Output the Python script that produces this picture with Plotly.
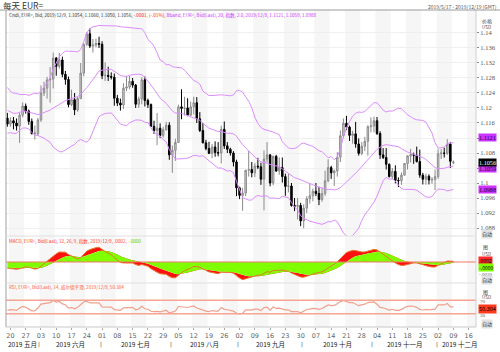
import numpy as np
import pandas as pd
import plotly.graph_objects as go

# ---------------- data (EUR= daily, Bid) ----------------
# closes before the visible window (only used to warm up the indicators)
warmup_close = [1.1340, 1.1352, 1.1415, 1.1374, 1.1301, 1.1312, 1.1265, 1.1251, 1.1223, 1.1217,
                1.1214, 1.1205, 1.1235, 1.1220, 1.1216, 1.1262, 1.1263, 1.1276, 1.1254, 1.1300,
                1.1304, 1.1284, 1.1297, 1.1236, 1.1245, 1.1257, 1.1225, 1.1153, 1.1131, 1.1150,
                1.1185, 1.1215, 1.1193, 1.1171, 1.1201, 1.1196, 1.1190, 1.1195, 1.1215, 1.1234,
                1.1225, 1.1206, 1.1202, 1.1173]

opens = [1.1173,
 1.1157, 1.1166, 1.1160, 1.1152, 1.1181,
 1.1205, 1.1192, 1.1164, 1.1131, 1.1131,
 1.1168, 1.1240, 1.1253, 1.1275, 1.1277,
 1.1333, 1.1311, 1.1328, 1.1290, 1.1276,
 1.1209, 1.1222, 1.1195, 1.1225, 1.1293,
 1.1370, 1.1398, 1.1365, 1.1368, 1.1372,
 1.1370, 1.1286, 1.1287, 1.1284, 1.1282,
 1.1226, 1.1213, 1.1208, 1.1253, 1.1256,
 1.1271, 1.1261, 1.1210, 1.1224, 1.1275,
 1.1220, 1.1209, 1.1151, 1.1140, 1.1146,
 1.1127, 1.1142, 1.1154, 1.1075, 1.1087,
 1.1108, 1.1203, 1.1199, 1.1200, 1.1181,
 1.1203, 1.1214, 1.1171, 1.1140, 1.1107,
 1.1092, 1.1079, 1.1096, 1.1081, 1.1080,
 1.1143, 1.1099, 1.1090, 1.1080, 1.1056,
 1.0987, 1.0967, 1.0973, 1.1034, 1.1036,
 1.1027, 1.1045, 1.1043, 1.1010, 1.1064,
 1.1075, 1.1000, 1.1071, 1.1032, 1.1041,
 1.1017, 1.0991, 1.0992, 1.0940, 1.0938,
 1.0940, 1.0899, 1.0933, 1.0958, 1.0966,
 1.0978, 1.0972, 1.0956, 1.0972, 1.1006,
 1.1041, 1.1027, 1.1032, 1.1069, 1.1126,
 1.1159, 1.1149, 1.1127, 1.1131, 1.1104,
 1.1079, 1.1098, 1.1111, 1.1150, 1.1152,
 1.1166, 1.1132, 1.1075, 1.1068, 1.1050,
 1.1017, 1.1031, 1.1007, 1.1006, 1.1021,
 1.1052, 1.1072, 1.1076, 1.1074, 1.1057,
 1.1021, 1.1010, 1.1018, 1.1008, 1.1009,
 1.1017, 1.1078, 1.1080, 1.1079, 1.1104,
 1.1054]

highs = [1.1187,
 1.1175, 1.1176, 1.1172, 1.1187, 1.1215,
 1.1212, 1.1196, 1.1172, 1.1153, 1.1174,
 1.1260, 1.1270, 1.1283, 1.1309, 1.1348,
 1.1336, 1.1347, 1.1337, 1.1299, 1.1284,
 1.1249, 1.1240, 1.1230, 1.1320, 1.1372,
 1.1403, 1.1412, 1.1384, 1.1385, 1.1390,
 1.1378, 1.1322, 1.1310, 1.1295, 1.1292,
 1.1235, 1.1225, 1.1266, 1.1285, 1.1286,
 1.1280, 1.1264, 1.1230, 1.1282, 1.1284,
 1.1225, 1.1212, 1.1166, 1.1187, 1.1159,
 1.1149, 1.1163, 1.1162, 1.1100, 1.1118,
 1.1209, 1.1250, 1.1230, 1.1226, 1.1217,
 1.1230, 1.1229, 1.1189, 1.1160, 1.1115,
 1.1110, 1.1104, 1.1111, 1.1109, 1.1153,
 1.1164, 1.1109, 1.1094, 1.1085, 1.1062,
 1.0990, 1.0987, 1.1035, 1.1085, 1.1056,
 1.1053, 1.1067, 1.1054, 1.1087, 1.1109,
 1.1076, 1.1073, 1.1075, 1.1068, 1.1068,
 1.1025, 1.1025, 1.1000, 1.0960, 1.0960,
 1.0947, 1.0943, 1.0965, 1.0999, 1.0985,
 1.1000, 1.0990, 1.0986, 1.1033, 1.1063,
 1.1046, 1.1036, 1.1082, 1.1140, 1.1172,
 1.1179, 1.1153, 1.1139, 1.1163, 1.1119,
 1.1109, 1.1123, 1.1154, 1.1175, 1.1177,
 1.1176, 1.1138, 1.1093, 1.1093, 1.1052,
 1.1040, 1.1047, 1.1015, 1.1028, 1.1052,
 1.1074, 1.1091, 1.1081, 1.1097, 1.1089,
 1.1027, 1.1025, 1.1023, 1.1016, 1.1036,
 1.1090, 1.1090, 1.1094, 1.1117, 1.1109,
 1.1060]

lows = [1.1150,
 1.1150, 1.1143, 1.1140, 1.1107, 1.1175,
 1.1185, 1.1155, 1.1131, 1.1116, 1.1126,
 1.1163, 1.1232, 1.1225, 1.1214, 1.1252,
 1.1286, 1.1305, 1.1282, 1.1262, 1.1202,
 1.1205, 1.1181, 1.1190, 1.1225, 1.1285,
 1.1365, 1.1360, 1.1348, 1.1362, 1.1360,
 1.1277, 1.1272, 1.1272, 1.1276, 1.1206,
 1.1205, 1.1193, 1.1197, 1.1245, 1.1250,
 1.1254, 1.1200, 1.1200, 1.1210, 1.1204,
 1.1200, 1.1150, 1.1131, 1.1101, 1.1120,
 1.1121, 1.1140, 1.1062, 1.1027, 1.1059,
 1.1107, 1.1170, 1.1180, 1.1178, 1.1178,
 1.1183, 1.1160, 1.1136, 1.1106, 1.1087,
 1.1077, 1.1066, 1.1070, 1.1071, 1.1052,
 1.1091, 1.1080, 1.1073, 1.1044, 1.0965,
 1.0957, 1.0926, 1.0965, 1.1017, 1.1015,
 1.1016, 1.1037, 1.0995, 1.0927, 1.1055,
 1.0991, 1.0994, 1.1030, 1.1022, 1.1001,
 1.0966, 1.0975, 1.0937, 1.0925, 1.0903,
 1.0885, 1.0879, 1.0920, 1.0945, 1.0951,
 1.0965, 1.0941, 1.0950, 1.0966, 1.1002,
 1.1011, 1.0992, 1.1017, 1.1056, 1.1120,
 1.1141, 1.1112, 1.1105, 1.1094, 1.1073,
 1.1074, 1.1085, 1.1073, 1.1135, 1.1135,
 1.1128, 1.1064, 1.1064, 1.1036, 1.1015,
 1.1010, 1.0999, 1.0989, 1.0995, 1.1019,
 1.1036, 1.1055, 1.1051, 1.1055, 1.1014,
 1.0996, 1.0995, 1.0996, 1.0998, 1.0981,
 1.1011, 1.1064, 1.1068, 1.1075, 1.1040,
 1.1050]

closes = [1.1157,
 1.1166, 1.1160, 1.1152, 1.1181, 1.1205,
 1.1192, 1.1164, 1.1131, 1.1133, 1.1168,
 1.1240, 1.1253, 1.1275, 1.1277, 1.1333,
 1.1311, 1.1328, 1.1290, 1.1276, 1.1209,
 1.1222, 1.1195, 1.1225, 1.1293, 1.1370,
 1.1398, 1.1365, 1.1368, 1.1372, 1.1370,
 1.1286, 1.1287, 1.1284, 1.1282, 1.1226,
 1.1213, 1.1208, 1.1253, 1.1256, 1.1271,
 1.1261, 1.1210, 1.1224, 1.1275, 1.1220,
 1.1209, 1.1151, 1.1140, 1.1146, 1.1127,
 1.1142, 1.1154, 1.1075, 1.1087, 1.1108,
 1.1203, 1.1199, 1.1200, 1.1181, 1.1203,
 1.1214, 1.1171, 1.1140, 1.1107, 1.1092,
 1.1079, 1.1096, 1.1081, 1.1080, 1.1143,
 1.1099, 1.1090, 1.1080, 1.1056, 1.0987,
 1.0967, 1.0973, 1.1034, 1.1036, 1.1027,
 1.1045, 1.1043, 1.1010, 1.1064, 1.1075,
 1.1000, 1.1071, 1.1032, 1.1041, 1.1017,
 1.0991, 1.0992, 1.0940, 1.0938, 1.0940,
 1.0899, 1.0933, 1.0958, 1.0966, 1.0978,
 1.0972, 1.0956, 1.0972, 1.1006, 1.1041,
 1.1027, 1.1032, 1.1069, 1.1126, 1.1159,
 1.1149, 1.1127, 1.1131, 1.1104, 1.1079,
 1.1098, 1.1111, 1.1150, 1.1152, 1.1166,
 1.1132, 1.1075, 1.1068, 1.1050, 1.1017,
 1.1031, 1.1007, 1.1006, 1.1021, 1.1052,
 1.1072, 1.1076, 1.1074, 1.1057, 1.1021,
 1.1010, 1.1018, 1.1008, 1.1009, 1.1017,
 1.1078, 1.1080, 1.1079, 1.1104, 1.1058,
 1.1056]

price_ticks = [1.088, 1.092, 1.096, 1.1, 1.104, 1.108, 1.112, 1.116, 1.12, 1.124, 1.128, 1.132, 1.136, 1.14]
# 1.104 and 1.112 are hidden behind the Bollinger value boxes in the original
price_tick_text = ["1.088", "1.092", "1.096", "1.1", "", "1.108", "", "1.116", "1.12",
                   "1.124", "1.128", "1.132", "1.136", "1.14"]
month_names = {5: "五月", 6: "六月", 7: "七月", 8: "八月", 9: "九月", 10: "十月", 11: "十一月", 12: "十二月"}

# ---------------- calendar & indicators ----------------
dates = pd.bdate_range("2019-05-17", "2019-12-09")
n = len(closes)
assert len(dates) == n == len(opens) == len(highs) == len(lows)
xi = np.arange(n)
X_MAX = 153.4
X_MIN = -0.45

allc = pd.Series(warmup_close + closes)
W = len(warmup_close)
sma = allc.rolling(20).mean()
sd = allc.rolling(20).std(ddof=0)
bb_up = (sma + 2 * sd).iloc[W:].values
bb_mid = sma.iloc[W:].values
bb_lo = (sma - 2 * sd).iloc[W:].values

ema12 = allc.ewm(span=12, adjust=False).mean()
ema26 = allc.ewm(span=26, adjust=False).mean()
macd_s = ema12 - ema26
sig_s = macd_s.ewm(span=9, adjust=False).mean()
macd = macd_s.iloc[W:].values
sig = sig_s.iloc[W:].values

d = allc.diff()
gain = d.clip(lower=0)
loss = -d.clip(upper=0)
ag = gain.ewm(alpha=1 / 14, adjust=False).mean()
al = loss.ewm(alpha=1 / 14, adjust=False).mean()
rsi = (100 - 100 / (1 + ag / al)).iloc[W:].values

# tick positions (Mondays) + one extra week beyond the data
mondays = [i for i, dt in enumerate(dates) if dt.weekday() == 0]
tickvals = mondays + [mondays[-1] + 5]
ticktext = [dates[i].strftime("%d") for i in mondays] + [(dates[mondays[-1]] + pd.Timedelta(days=7)).strftime("%d")]

# ---------------- figure ----------------
fig = go.Figure()

# weekly stripes
shapes = []
for k, m in enumerate(tickvals):
    if k % 2 == 0:
        shapes.append(dict(type="rect", xref="x", yref="paper", x0=m - 0.5, x1=min(m + 4.5, X_MAX),
                           y0=0, y1=1, fillcolor="#f6f6f6", line=dict(width=0), layer="below"))

fig.add_trace(go.Scatter(x=xi, y=bb_up, mode="lines", line=dict(color="#dd8cff", width=1),
                         xaxis="x", yaxis="y", hoverinfo="skip"))
fig.add_trace(go.Scatter(x=xi, y=bb_mid, mode="lines", line=dict(color="#dd8cff", width=1),
                         xaxis="x", yaxis="y", hoverinfo="skip"))
fig.add_trace(go.Scatter(x=xi, y=bb_lo, mode="lines", line=dict(color="#dd8cff", width=1),
                         xaxis="x", yaxis="y", hoverinfo="skip"))
fig.add_trace(go.Candlestick(x=xi, open=opens, high=highs, low=lows, close=closes,
                             increasing=dict(line=dict(color="#8a8a8a", width=1), fillcolor="#d6d6d6"),
                             decreasing=dict(line=dict(color="#000000", width=1), fillcolor="#000000"),
                             whiskerwidth=0, xaxis="x", yaxis="y"))

# MACD pane
fig.add_trace(go.Scatter(x=xi, y=sig, mode="lines", line=dict(width=0), xaxis="x", yaxis="y2", hoverinfo="skip"))
fig.add_trace(go.Scatter(x=xi, y=macd, mode="lines", line=dict(width=0), fill="tonexty",
                         fillcolor="#ff1010", xaxis="x", yaxis="y2", hoverinfo="skip"))
fig.add_trace(go.Scatter(x=xi, y=np.zeros(n), mode="lines", line=dict(width=0), xaxis="x", yaxis="y2", hoverinfo="skip"))
fig.add_trace(go.Scatter(x=xi, y=sig, mode="lines", line=dict(width=0), fill="tonexty",
                         fillcolor="#80ff00", xaxis="x", yaxis="y2", hoverinfo="skip"))
fig.add_trace(go.Scatter(x=xi, y=macd, mode="lines", line=dict(color="#e8742c", width=1),
                         xaxis="x", yaxis="y2", hoverinfo="skip"))

# RSI pane
fig.add_trace(go.Scatter(x=xi, y=rsi, mode="lines", line=dict(color="#f2a08c", width=1.2),
                         xaxis="x", yaxis="y3", hoverinfo="skip"))

shapes += [
    dict(type="line", xref="paper", yref="y2", x0=0, x1=1, y0=0, y1=0, line=dict(color="#f07868", width=1)),
    dict(type="line", xref="paper", yref="y3", x0=0, x1=1, y0=70, y1=70, line=dict(color="#f6a494", width=1.5)),
    dict(type="line", xref="paper", yref="y3", x0=0, x1=1, y0=30, y1=30, line=dict(color="#f6a494", width=1.5)),
    # borders and pane separators
    dict(type="line", xref="paper", yref="paper", x0=0, x1=0, y0=0, y1=1, line=dict(color="#a0a0a0", width=1)),
    dict(type="line", xref="paper", yref="paper", x0=1, x1=1, y0=0, y1=1, line=dict(color="#d0d0d0", width=1)),
    dict(type="line", xref="paper", yref="paper", x0=-0.013, x1=1.051, y0=1, y1=1, line=dict(color="#9a9a9a", width=1)),
    dict(type="line", xref="paper", yref="paper", x0=0, x1=1, y0=0.2871, y1=0.2871, line=dict(color="#e0e0e0", width=1)),
    dict(type="line", xref="paper", yref="paper", x0=0, x1=1, y0=0.1388, y1=0.1388, line=dict(color="#e0e0e0", width=1)),
    dict(type="line", xref="paper", yref="paper", x0=0, x1=1, y0=0, y1=0, line=dict(color="#c8c8c8", width=1)),
]

SANS = "Noto Sans CJK SC, DejaVu Sans, sans-serif"
LATIN = "DejaVu Sans, sans-serif"
SERIF = "Liberation Serif, DejaVu Serif, serif"


def px2p(px, py):
    return (px - 6) / 470.0, (327 - py) / 317.0


ann = []


def txt(px, py, text, size=5, color="#333", xanchor="left", bg=None, family=SANS):
    xp, yp = px2p(px, py)
    a = dict(xref="paper", yref="paper", x=xp, y=yp, text=text, showarrow=False, xanchor=xanchor,
             yanchor="middle", font=dict(size=size, color=color, family=family), borderpad=0)
    if bg:
        a["bgcolor"] = bg
    ann.append(a)


txt(2, 5, "每天 EUR=", size=8.5, color="#333")
txt(498, 6, "2019/5/17 - 2019/12/19 (GMT)", size=5, color="#555", xanchor="right")
txt(8, 15,
    "Cndl, EUR=, Bid, 2019/12/9, 1.1054, 1.1060, 1.1050, 1.1056, "
    "<span style='color:#ff2020'>-.0001, (-.01%), </span>"
    "<span style='color:#cc33ff'>Bband, EUR=, Bid(Last), 20, 指数, 2.0, 2019/12/9, 1.1121, 1.1059, 1.0988</span>",
    size=4.6, color="#333")
txt(8, 241.5, "MACD, EUR=, Bid(Last), 12, 26, 9, 指数, 2019/12/9, .0002, <span style='color:#60d000'>-.0000</span>",
    size=4.6, color="#ff3a20")
txt(8, 287.5, "RSI, EUR=, Bid(Last), 14, 威尔德平滑, 2019/12/9, 50.304", size=4.6, color="#ff5a40")

# right-side headers and labels
txt(481, 21, "价格", size=5, color="#444")
txt(481, 26.5, "USD", size=4.5, color="#444")
txt(481, 234, "自动", size=5, color="#333", bg="#e2e2e2")
txt(482, 247, "图", size=5, color="#444")
txt(481, 253.5, "USD", size=4.5, color="#444")
txt(478, 260.5, ".0002", size=5, color="#000", bg="#ff2a2a")
txt(478, 267.5, "-.0000", size=5, color="#000", bg="#80ff00")
txt(478, 274, "-.0030", size=5, color="#555", family=SERIF)
txt(481, 280, "自动", size=5, color="#333", bg="#e2e2e2")
txt(482, 291.5, "图", size=5, color="#444")
txt(481, 297, "USD", size=4.5, color="#444")
txt(479, 301.5, "70", size=5, color="#555", family=SERIF)
txt(478, 308.5, "50.304", size=5.5, color="#000", bg="#ff3b1e")
txt(479, 315.5, "30", size=5, color="#555", family=SERIF)
txt(481, 323.5, "自动", size=5, color="#333", bg="#e2e2e2")

# price boxes (attached to the price axis)
for val, label, bg, fc in [(1.1121, "1.1121", "#cc33ff", "#220033"),
                           (1.1040, "1.1059", "#cc33ff", "#220033"),
                           (1.0984, "1.0988", "#cc33ff", "#220033"),
                           (closes[-1], "1.1056", "#000000", "#ffffff")]:
    ann.append(dict(xref="paper", yref="y", x=(478 - 6) / 470.0, y=val, text=label, showarrow=False,
                    xanchor="left", yanchor="middle", bgcolor=bg, borderpad=0,
                    font=dict(size=6.2, color=fc, family=SERIF)))

# month row
bounds = [X_MIN] + [i - 0.5 for i in range(1, n) if dates[i].month != dates[i - 1].month] + [X_MAX]
months = [dates[0].month] + [dates[i].month for i in range(1, n) if dates[i].month != dates[i - 1].month]
ym = (327 - 344) / 317.0
for j, m in enumerate(months):
    c = (bounds[j] + bounds[j + 1]) / 2
    if j == len(months) - 1:
        c += 1.2
    ann.append(dict(xref="x", yref="paper", x=c, y=ym, text="2019 " + month_names[m], showarrow=False,
                    xanchor="center", yanchor="middle", borderpad=0,
                    font=dict(size=6.5, color="#222", family=SANS)))
for b in bounds[1:-1]:
    ann.append(dict(xref="x", yref="paper", x=b, y=ym, text="|", showarrow=False, borderpad=0,
                    xanchor="center", yanchor="middle", font=dict(size=5.5, color="#333", family=LATIN)))

fig.update_layout(
    width=500, height=352, template="none",
    margin=dict(l=6, r=24, t=10, b=25),
    paper_bgcolor="#ffffff", plot_bgcolor="#ffffff",
    showlegend=False,
    shapes=shapes, annotations=ann,
    xaxis=dict(range=[X_MIN, X_MAX], anchor="y3", tickvals=tickvals, ticktext=ticktext,
               tickfont=dict(size=6.5, color="#666", family=LATIN), ticks="outside", ticklen=2,
               tickcolor="#aaa", showgrid=False, zeroline=False, showline=False,
               rangeslider=dict(visible=False)),
    yaxis=dict(domain=[0.2871, 1], range=[1.08587, 1.14613], side="right", anchor="x",
               tickvals=price_ticks, ticktext=price_tick_text, tickfont=dict(size=6.5, color="#555", family=SERIF),
               ticks="outside", ticklen=2, tickcolor="#888", showgrid=True, gridcolor="#efefef",
               zeroline=False, showline=False),
    yaxis2=dict(domain=[0.1388, 0.2871], range=[-0.00573, 0.00709], side="right", anchor="x",
                showticklabels=False, showgrid=False, zeroline=False, ticks=""),
    yaxis3=dict(domain=[0, 0.1388], range=[-10, 122], side="right", anchor="x",
                showticklabels=False, showgrid=False, zeroline=False, ticks=""),
)

fig.write_html("out.html")
